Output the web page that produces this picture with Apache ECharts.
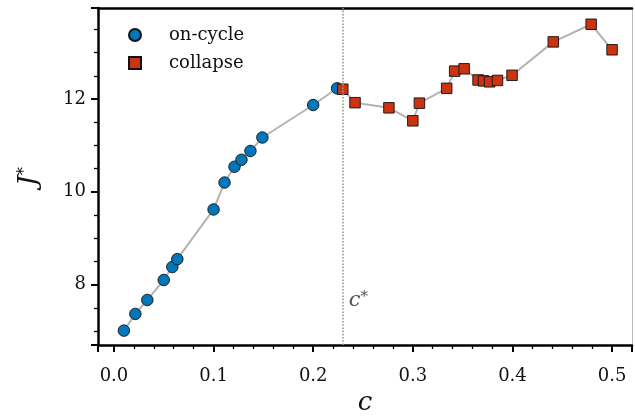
<!DOCTYPE html>
<html>
<head>
<meta charset="utf-8">
<script src="https://cdn.jsdelivr.net/npm/echarts@6/dist/echarts.min.js"></script>
<style>
html,body{margin:0;padding:0;background:#fff;}
#chart{width:635px;height:418px;}
</style>
</head>
<body>
<div id="chart"></div>
<script>
// ---- data ----
const onCycleC = [0.010, 0.0215, 0.0335, 0.050, 0.0586, 0.0636, 0.100, 0.111, 0.121, 0.128, 0.137, 0.149, 0.200, 0.224];
const onCycleJ = [7.01, 7.37, 7.67, 8.10, 8.38, 8.55, 9.62, 10.20, 10.54, 10.69, 10.88, 11.17, 11.87, 12.23];
const collapseC = [0.2297, 0.242, 0.276, 0.300, 0.3066, 0.334, 0.342, 0.3515, 0.3655, 0.371, 0.377, 0.385, 0.3996, 0.441, 0.479, 0.500];
const collapseJ = [12.21, 11.92, 11.81, 11.53, 11.91, 12.23, 12.60, 12.65, 12.41, 12.39, 12.37, 12.40, 12.51, 13.23, 13.61, 13.06];
const cStar = 0.2267;
const xRange = [-0.016, 0.520];
const yRange = [6.70, 13.96];
const xStep = 0.1;
const yStep = 2;

const FONT = 'DejaVu Serif';
const BLUE = '#0077BB';
const RED = '#CC3311';

const allPts = onCycleC.map((c,i)=>[c,onCycleJ[i]]).concat(collapseC.map((c,i)=>[c,collapseJ[i]]));

const chart = echarts.init(document.getElementById('chart'));
chart.setOption({
  animation: false,
  textStyle: {fontFamily: FONT},
  grid: {left: 98, right: 3, top: 8, bottom: 73, outerBoundsMode: 'none', containLabel: false},
  legend: {
    left: 123, top: 21, orient: 'vertical',
    itemWidth: 12, itemHeight: 12, itemGap: 10,
    data: ['on-cycle', 'collapse'],
    formatter: n => '{g|}' + n,
    textStyle: {fontFamily: FONT, fontSize: 18, color: '#111', lineHeight: 18,
      rich: {g: {width: 23}}}
  },
  xAxis: [
    {type: 'value', min: xRange[0], max: xRange[1], position: 'bottom', offset: 0,
     splitNumber: 5, minInterval: xStep, maxInterval: xStep,
     name: 'c', nameLocation: 'middle', nameGap: 45,
     nameTextStyle: {fontFamily: FONT, fontStyle: 'italic', fontSize: 26, color: '#111'},
     axisLine: {show: true, onZero: false, lineStyle: {color: '#000', width: 2.5}},
     axisTick: {show: true, inside: false, length: 7, lineStyle: {color: '#000', width: 2}},
     minorTick: {show: true, splitNumber: 5, length: 4, lineStyle: {color: '#000', width: 1.3}},
     axisLabel: {show: true, margin: 22, fontFamily: FONT, fontSize: 18, color: '#111',
       showMinLabel: false, showMaxLabel: false, formatter: v => v.toFixed(1)},
     splitLine: {show: false}, minorSplitLine: {show: false}},
    {type: 'value', min: xRange[0], max: xRange[1], position: 'top', offset: 0,
     axisLine: {show: true, onZero: false, lineStyle: {color: '#000', width: 2.5}},
     axisTick: {show: false}, axisLabel: {show: false}, splitLine: {show: false}}
  ],
  yAxis: [
    {type: 'value', min: yRange[0], max: yRange[1], position: 'left', offset: 0,
     splitNumber: 3, minInterval: yStep, maxInterval: yStep,
     name: '{j|J}{s|*}', nameLocation: 'middle', nameGap: 55, nameRotate: 90,
     nameTextStyle: {rich: {
       j: {fontFamily: FONT, fontStyle: 'italic', fontSize: 26, color: '#111'},
       s: {fontFamily: FONT, fontSize: 17, color: '#111', verticalAlign: 'top', padding: [0,0,10,0]}}},
     axisLine: {show: true, onZero: false, lineStyle: {color: '#000', width: 2.5}},
     axisTick: {show: true, inside: false, length: 7, lineStyle: {color: '#000', width: 2}},
     minorTick: {show: true, splitNumber: 4, length: 4, lineStyle: {color: '#000', width: 1.3}},
     axisLabel: {show: true, margin: 12, fontFamily: FONT, fontSize: 18, color: '#111',
       showMinLabel: false, showMaxLabel: false},
     splitLine: {show: false}, minorSplitLine: {show: false}},
    {type: 'value', min: yRange[0], max: yRange[1], position: 'right', offset: 0,
     axisLine: {show: true, onZero: false, lineStyle: {color: '#bbb', width: 1}},
     axisTick: {show: false}, axisLabel: {show: false}, splitLine: {show: false}}
  ],
  series: [
    {name: 'path', type: 'line', data: allPts, showSymbol: false, symbol: 'none',
     lineStyle: {color: '#b3b3b3', width: 2}, z: 1, silent: true,
     markLine: {silent: true, symbol: ['none','none'], label: {show: false},
       lineStyle: {type: 'dotted', color: '#999', width: 1.6},
       data: [{xAxis: cStar}]},
     markPoint: {silent: true, symbol: 'circle', symbolSize: 0,
       data: [{coord: [cStar, 7.65]}],
       label: {show: true, position: 'right', distance: 9, formatter: '{c|c}{s|*}',
         rich: {c: {fontFamily: FONT, fontStyle: 'italic', fontSize: 21, color: '#555'},
                s: {fontFamily: FONT, fontSize: 15, color: '#555', verticalAlign: 'top', padding: [0,0,8,0]}}}}},
    {name: 'on-cycle', type: 'scatter', data: onCycleC.map((c,i)=>[c,onCycleJ[i]]),
     symbol: 'circle', symbolSize: 11.5, z: 3,
     itemStyle: {color: BLUE, borderColor: '#111', borderWidth: 0.9, opacity: 1}},
    {name: 'collapse', type: 'scatter', data: collapseC.map((c,i)=>[c,collapseJ[i]]),
     symbol: 'rect', symbolSize: 10.5, z: 4,
     itemStyle: {color: RED, borderColor: '#111', borderWidth: 0.9, opacity: 1}}
  ]
});
</script>
</body>
</html>
